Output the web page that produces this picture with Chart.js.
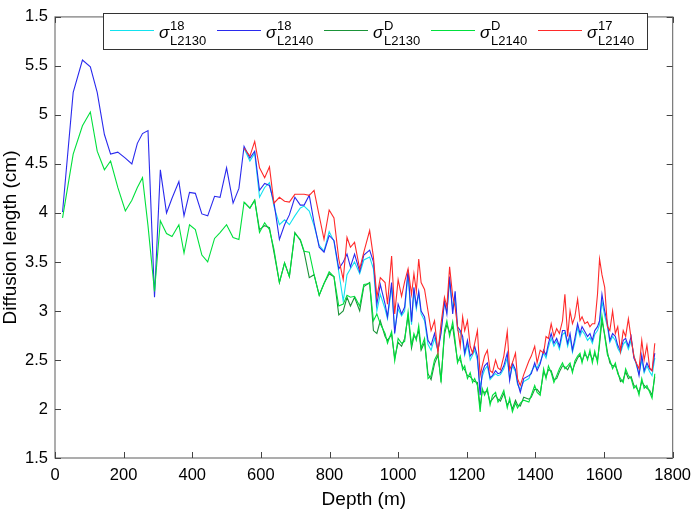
<!DOCTYPE html>
<html>
<head>
<meta charset="utf-8">
<script src="https://cdn.jsdelivr.net/npm/chart.js@4/dist/chart.umd.min.js"></script>
<style>
  html, body { margin: 0; padding: 0; background: #fff; }
  #wrap { width: 699px; height: 511px; }
</style>
</head>
<body>
<div id="wrap"><canvas id="diffusion" width="699" height="511"></canvas></div>
<script>
// depth of each sample (m)
const depth = [
  22, 53, 80, 103, 123, 144, 162, 183, 205, 224, 240, 255, 271, 290, 307, 325, 341, 361, 376, 392,
  409, 428, 445, 465, 481, 500, 519, 536,
  551, 568, 582, 596, 611, 625, 638, 654, 669, 683, 699, 715, 726, 741, 755, 770, 784, 799, 813, 827,
  840, 851, 861, 873, 888, 900, 917, 928, 938, 948,
  962, 969, 981, 990, 1000, 1010, 1019, 1029, 1039, 1046, 1053, 1060, 1067, 1077, 1087, 1096, 1106, 1116, 1125, 1135,
  1142, 1150, 1159, 1166, 1173, 1181, 1188, 1194, 1202, 1210, 1217, 1223, 1231, 1239, 1245, 1252, 1260, 1268, 1275, 1284,
  1291, 1298, 1308, 1318, 1325, 1333, 1342, 1348, 1356, 1366,
  1381, 1388, 1398, 1405, 1414, 1424, 1431, 1438, 1446, 1454, 1462, 1470, 1479, 1486, 1494, 1501, 1508, 1515, 1523, 1530,
  1536, 1544, 1552, 1559, 1566, 1573, 1581, 1587, 1594, 1602, 1610, 1617, 1625, 1633, 1640, 1648, 1656, 1663, 1671, 1679,
  1687, 1694, 1702, 1710, 1717, 1725, 1733, 1740, 1748
];
// the L2130 and 17O series start at depth index 28 (551 m)
const startL2130 = 28;

// sigma 18 L2140 (blue), full depth
const sig18L2140 = [
  4.01, 5.23, 5.56, 5.49, 5.23, 4.80, 4.60, 4.62, 4.56, 4.50, 4.71, 4.81, 4.84, 3.14, 4.44, 4.00, 4.15, 4.32, 3.97, 4.21,
  4.20, 3.99, 3.97, 4.17, 4.16, 4.46, 4.10, 4.25,
  4.68, 4.56, 4.63, 4.23, 4.30, 4.28, 4.11, 3.73, 3.88, 3.98, 4.16, 4.08, 4.08, 4.18, 3.90, 3.65, 3.60, 3.77, 3.72, 3.43,
  3.50, 3.58, 3.45, 3.58, 3.40, 3.57, 3.62, 3.50, 3.07, 3.27,
  3.07, 2.94, 3.29, 2.77, 3.07, 2.97, 3.04, 3.42, 2.89, 3.24, 3.05, 3.20, 3.00, 2.94, 2.70, 2.65, 2.77, 2.60, 2.77, 3.10,
  2.97, 3.35, 2.97, 3.20, 2.84, 2.80, 2.74, 2.57, 2.70, 2.54, 2.57, 2.64, 2.54, 2.14, 2.37, 2.44, 2.47, 2.32, 2.34, 2.39,
  2.36, 2.37, 2.44, 2.57, 2.29, 2.47, 2.40, 2.27, 2.17, 2.31,
  2.34, 2.36, 2.47, 2.39, 2.46, 2.60, 2.55, 2.67, 2.77, 2.67, 2.72, 2.64, 2.80, 2.80, 2.67, 2.77, 2.60, 2.72, 2.87, 2.77,
  2.84, 2.79, 2.74, 2.77, 2.70, 2.80, 2.84, 2.90, 3.17, 3.00, 2.87, 2.70, 2.77, 2.74, 2.65, 2.59, 2.70, 2.72, 2.64, 2.74,
  2.52, 2.47, 2.34, 2.55, 2.39, 2.47, 2.41, 2.39, 2.57
];

// sigma D L2140 (bright green), full depth
const sigDL2140 = [
  3.95, 4.60, 4.89, 5.03, 4.63, 4.44, 4.53, 4.26, 4.02, 4.13, 4.26, 4.36, 3.87, 3.20, 3.92, 3.79, 3.76, 3.88, 3.59, 3.88,
  3.83, 3.57, 3.50, 3.74, 3.80, 3.88, 3.75, 3.73,
  4.11, 4.05, 4.13, 3.80, 3.90, 3.83, 3.63, 3.29, 3.49, 3.35, 3.79, 3.73, 3.61, 3.60, 3.37, 3.16, 3.28, 3.40, 3.35, 3.05,
  3.07, 3.16, 3.14, 3.15, 3.05, 3.27, 3.28, 2.90, 2.97, 2.87,
  2.77, 2.67, 2.79, 2.49, 2.72, 2.67, 2.69, 2.99, 2.65, 2.77, 2.70, 2.85, 2.62, 2.72, 2.31, 2.34, 2.50, 2.57, 2.27, 2.80,
  2.90, 2.74, 2.89, 2.70, 2.47, 2.54, 2.40, 2.44, 2.31, 2.37, 2.27, 2.31, 2.24, 1.97, 2.21, 2.14, 2.21, 2.04, 2.14, 2.17,
  2.07, 2.11, 2.19, 2.01, 2.11, 1.97, 2.06, 2.01, 2.06, 2.09,
  2.07, 2.14, 2.24, 2.17, 2.14, 2.41, 2.31, 2.44, 2.37, 2.27, 2.34, 2.41, 2.47, 2.41, 2.44, 2.47, 2.37, 2.49, 2.54, 2.57,
  2.47, 2.59, 2.50, 2.60, 2.47, 2.59, 2.47, 2.70, 2.95, 2.74, 2.55, 2.50, 2.41, 2.47, 2.36, 2.31, 2.27, 2.41, 2.34, 2.31,
  2.21, 2.24, 2.14, 2.31, 2.21, 2.24, 2.17, 2.11, 2.36
];

// sigma 18 L2130 (cyan), from 551 m
const sig18L2130 = [
  4.66, 4.53, 4.61, 4.16, 4.26, 4.31, 4.07, 3.88, 3.93, 3.88, 3.97, 4.05, 4.07, 4.02, 3.87, 3.67, 3.61, 3.81, 3.71, 3.40,
  3.10, 3.37, 3.43, 3.50, 3.38, 3.52, 3.55, 3.43, 3.00, 3.17,
  3.02, 2.92, 3.25, 2.80, 3.02, 2.95, 3.00, 3.38, 2.86, 3.20, 3.02, 3.18, 2.97, 2.90, 2.66, 2.60, 2.72, 2.59, 2.80, 3.08,
  2.99, 3.30, 3.02, 3.16, 2.80, 2.78, 2.70, 2.55, 2.66, 2.50, 2.55, 2.60, 2.50, 2.22, 2.33, 2.40, 2.44, 2.30, 2.33, 2.36,
  2.34, 2.35, 2.41, 2.52, 2.31, 2.44, 2.38, 2.25, 2.20, 2.28,
  2.31, 2.38, 2.44, 2.42, 2.48, 2.57, 2.52, 2.63, 2.72, 2.64, 2.69, 2.61, 2.76, 2.78, 2.64, 2.73, 2.58, 2.68, 2.83, 2.74,
  2.80, 2.76, 2.70, 2.73, 2.67, 2.76, 2.80, 2.86, 3.10, 2.95, 2.84, 2.68, 2.74, 2.70, 2.62, 2.57, 2.66, 2.69, 2.61, 2.70,
  2.55, 2.45, 2.36, 2.50, 2.37, 2.44, 2.38, 2.34, 2.52
];

// sigma D L2130 (dark green), from 551 m
const sigDL2130 = [
  4.11, 4.05, 4.13, 3.83, 3.87, 3.85, 3.60, 3.29, 3.49, 3.35, 3.80, 3.72, 3.60, 3.34, 3.37, 3.16, 3.28, 3.38, 3.35, 2.96,
  3.00, 3.14, 3.05, 3.14, 3.00, 3.25, 3.29, 2.80, 2.77, 2.90,
  2.74, 2.70, 2.76, 2.52, 2.68, 2.64, 2.72, 2.95, 2.62, 2.74, 2.73, 2.80, 2.60, 2.68, 2.36, 2.30, 2.46, 2.55, 2.30, 2.76,
  2.86, 2.78, 2.84, 2.66, 2.50, 2.50, 2.43, 2.40, 2.34, 2.33, 2.30, 2.28, 2.27, 2.02, 2.18, 2.17, 2.18, 2.07, 2.10, 2.14,
  2.10, 2.08, 2.16, 2.04, 2.08, 2.00, 2.09, 2.04, 2.03, 2.12,
  2.10, 2.12, 2.20, 2.20, 2.16, 2.38, 2.33, 2.40, 2.39, 2.30, 2.31, 2.38, 2.44, 2.43, 2.40, 2.45, 2.39, 2.46, 2.52, 2.55,
  2.49, 2.56, 2.52, 2.57, 2.50, 2.56, 2.50, 2.66, 2.90, 2.76, 2.58, 2.47, 2.44, 2.44, 2.38, 2.28, 2.30, 2.38, 2.31, 2.33,
  2.24, 2.22, 2.17, 2.28, 2.24, 2.21, 2.19, 2.14, 2.33
];

// sigma 17 L2140 (red), from 551 m
const sig17L2140 = [
  4.66, 4.58, 4.73, 4.46, 4.36, 4.47, 4.10, 4.16, 4.12, 4.11, 4.19, 4.19, 4.19, 4.18, 4.23, 3.97, 3.73, 4.03, 3.95, 3.53,
  3.32, 3.75, 3.65, 3.70, 3.43, 3.60, 3.82, 3.55, 3.14, 3.34,
  3.29, 3.07, 3.56, 2.97, 3.32, 3.15, 3.30, 3.43, 3.17, 3.38, 3.20, 3.53, 3.29, 3.22, 3.00, 2.80, 2.90, 2.57, 2.87, 3.14,
  3.04, 3.45, 3.15, 3.04, 2.84, 2.64, 2.94, 2.80, 2.90, 2.64, 2.57, 2.67, 2.80, 2.34, 2.44, 2.54, 2.60, 2.39, 2.37, 2.50,
  2.42, 2.40, 2.54, 2.79, 2.40, 2.47, 2.57, 2.31, 2.24, 2.35,
  2.49, 2.54, 2.64, 2.47, 2.60, 2.57, 2.74, 2.72, 2.87, 2.74, 2.82, 2.77, 2.90, 3.17, 2.74, 3.00, 2.87, 2.94, 3.12, 2.90,
  2.94, 2.87, 2.89, 2.84, 2.87, 2.87, 3.17, 3.53, 3.37, 3.24, 2.84, 2.80, 3.00, 2.77, 2.84, 2.59, 2.80, 2.74, 2.92, 2.72,
  2.54, 2.47, 2.41, 2.70, 2.50, 2.65, 2.42, 2.39, 2.67
];

const xTicks = [0, 200, 400, 600, 800, 1000, 1200, 1400, 1600, 1800];
const yTicks = [1.5, 2, 2.5, 3, 3.5, 4, 4.5, 5, 5.5, 6];
// the top tick of the original figure is printed as "1.5"
const yTickText = ['1.5', '2', '2.5', '3', '3.5', '4', '4.5', '5', '5.5', '1.5'];

// legend entries: colour, superscript, subscript
const legendItems = [
  ['#12e2ef', '18', 'L2130'],
  ['#2a2aee', '18', 'L2140'],
  ['#1a9338', 'D', 'L2130'],
  ['#00e03c', 'D', 'L2140'],
  ['#ff2a2a', '17', 'L2140']
];

const FONT = "'Liberation Sans', Arial, Helvetica, sans-serif";

function pts(vals, offset) {
  return vals.map((v, i) => ({ x: depth[i + offset], y: v }));
}

function line(vals, offset, colour, order) {
  return {
    data: pts(vals, offset),
    borderColor: colour,
    borderWidth: 1.1,
    pointRadius: 0,
    fill: false,
    tension: 0,
    order: order
  };
}

// box round the plot with inward tick marks (matlab style)
const frame = {
  id: 'frame',
  afterDatasetsDraw(chart) {
    const { ctx, chartArea: a, scales } = chart;
    ctx.save();
    ctx.strokeStyle = '#777';
    ctx.lineWidth = 1.2;
    ctx.strokeRect(a.left, a.top, a.right - a.left, a.bottom - a.top);
    ctx.strokeStyle = '#444';
    ctx.lineWidth = 1;
    ctx.beginPath();
    xTicks.forEach(v => {
      const px = Math.round(scales.x.getPixelForValue(v)) + 0.5;
      ctx.moveTo(px, a.bottom); ctx.lineTo(px, a.bottom - 6);
      ctx.moveTo(px, a.top); ctx.lineTo(px, a.top + 6);
    });
    yTicks.forEach(v => {
      const py = Math.round(scales.y.getPixelForValue(v)) + 0.5;
      ctx.moveTo(a.left, py); ctx.lineTo(a.left + 6, py);
      ctx.moveTo(a.right, py); ctx.lineTo(a.right - 6, py);
    });
    ctx.stroke();
    ctx.restore();
  },
  afterDraw(chart) {
    const ctx = chart.ctx;
    ctx.save();
    ctx.fillStyle = '#fff';
    ctx.fillRect(103.5, 13.5, 544, 36);
    ctx.strokeStyle = '#333';
    ctx.lineWidth = 1;
    ctx.strokeRect(103.5, 13.5, 544, 36);
    legendItems.forEach((it, i) => {
      const x0 = 110 + i * 107;
      ctx.strokeStyle = it[0];
      ctx.lineWidth = 1.2;
      ctx.beginPath();
      ctx.moveTo(x0, 30.5); ctx.lineTo(x0 + 44, 30.5);
      ctx.stroke();
      ctx.fillStyle = '#000';
      ctx.textBaseline = 'alphabetic';
      ctx.textAlign = 'left';
      ctx.font = 'italic 17px ' + FONT;
      ctx.fillText('\u03c3', x0 + 49, 38);
      ctx.font = '13px ' + FONT;
      ctx.fillText(it[1], x0 + 60, 29.5);
      ctx.fillText(it[2], x0 + 60, 44.5);
    });
    ctx.restore();
  }
};

new Chart(document.getElementById('diffusion'), {
  type: 'line',
  data: {
    datasets: [
      line(sig18L2130, startL2130, '#12e2ef', 5),
      line(sig18L2140, 0, '#2a2aee', 4),
      line(sigDL2130, startL2130, '#1a9338', 3),
      line(sigDL2140, 0, '#00e03c', 2),
      line(sig17L2140, startL2130, '#ff2a2a', 1)
    ]
  },
  options: {
    responsive: false,
    animation: false,
    layout: { padding: { top: 6, right: 19, left: 0, bottom: 0 } },
    plugins: { legend: { display: false }, tooltip: { enabled: false } },
    scales: {
      x: {
        type: 'linear', min: 0, max: 1800,
        afterBuildTicks: s => { s.ticks = xTicks.map(v => ({ value: v })); },
        ticks: {
          padding: 8, color: '#000', maxRotation: 0, autoSkip: false, font: { family: FONT, size: 16.5 },
          callback: v => String(v)
        },
        grid: { display: false, drawTicks: false },
        border: { display: false },
        title: { display: true, text: 'Depth (m)', color: '#000', font: { family: FONT, size: 19 }, padding: { top: 0, bottom: 0 } },
        afterFit: s => { s.height = 53; }
      },
      y: {
        min: 1.5, max: 6,
        afterBuildTicks: s => { s.ticks = yTicks.map(v => ({ value: v })); },
        ticks: {
          padding: 7, color: '#000', autoSkip: false, font: { family: FONT, size: 16.5 },
          callback: (v, i) => yTickText[i]
        },
        grid: { display: false, drawTicks: false },
        border: { display: false },
        title: { display: true, text: 'Diffusion length (cm)', color: '#000', font: { family: FONT, size: 19 }, padding: { top: -1, bottom: 0 } },
        afterFit: s => { s.width = 55; }
      }
    }
  },
  plugins: [frame]
});
</script>
</body>
</html>
